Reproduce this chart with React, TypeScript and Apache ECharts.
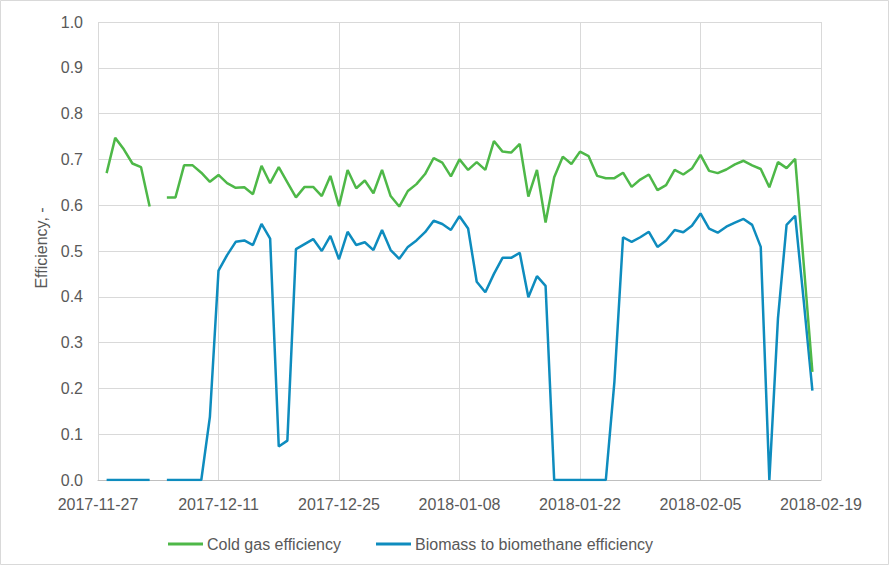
import React, { useEffect, useRef } from "react";
import * as echarts from "echarts";

// Daily categories from 2017-11-27 to 2018-02-19
const startDate = "2017-11-27";
const dayCount = 85;
const tickStep = 14;

// Values start at 2017-11-28 (index 1); index 0 (2017-11-27) has no value
const coldGas: (number | null)[] = [
  null,
  0.67, 0.747, 0.722, 0.691, 0.683, 0.597, null, 0.617, 0.617, 0.687,
  0.687, 0.671, 0.651, 0.666, 0.648, 0.638, 0.639, 0.624, 0.686, 0.648,
  0.683, 0.65, 0.617, 0.64, 0.64, 0.62, 0.664, 0.598, 0.677, 0.637,
  0.654, 0.626, 0.677, 0.62, 0.597, 0.631, 0.646, 0.668, 0.703, 0.693,
  0.663, 0.7, 0.677, 0.694, 0.677, 0.74, 0.717, 0.715, 0.734, 0.619,
  0.677, 0.562, 0.661, 0.706, 0.69, 0.717, 0.707, 0.664, 0.659, 0.659,
  0.671, 0.64, 0.656, 0.667, 0.633, 0.644, 0.677, 0.667, 0.68, 0.71,
  0.675, 0.67, 0.678, 0.689, 0.697, 0.687, 0.679, 0.639, 0.694, 0.681,
  0.701, 0.47, 0.236, null,
];

const biomass: (number | null)[] = [
  null,
  0, 0, 0, 0, 0, 0, null, 0, 0, 0,
  0, 0, 0.138, 0.457, 0.491, 0.52, 0.523, 0.513, 0.559, 0.527,
  0.073, 0.086, 0.504, 0.515, 0.526, 0.5, 0.533, 0.482, 0.542, 0.513,
  0.519, 0.502, 0.546, 0.502, 0.483, 0.509, 0.523, 0.541, 0.566, 0.559,
  0.546, 0.576, 0.549, 0.433, 0.41, 0.45, 0.485, 0.485, 0.496, 0.399,
  0.445, 0.424, 0, 0, 0, 0, 0, 0, 0, 0.215,
  0.53, 0.52, 0.53, 0.542, 0.509, 0.523, 0.546, 0.541, 0.555, 0.582,
  0.549, 0.54, 0.553, 0.562, 0.57, 0.557, 0.509, 0, 0.353, 0.557,
  0.577, 0.39, 0.195, null,
];

const seriesNames = ["Cold gas efficiency", "Biomass to biomethane efficiency"];
const yTitle = "Efficiency, -";

function buildDates(): string[] {
  const out: string[] = [];
  const base = new Date(startDate + "T00:00:00Z").getTime();
  for (let i = 0; i < dayCount; i++) {
    const d = new Date(base + i * 86400000);
    out.push(d.toISOString().slice(0, 10));
  }
  return out;
}

const GREEN = "#4EB848";
const BLUE = "#0E8CBE";
const FONT = "'Liberation Sans', Arial, sans-serif";
const TEXT = "#595959";

export default function App() {
  const ref = useRef<HTMLDivElement>(null);
  useEffect(() => {
    if (!ref.current) return;
    const chart = echarts.init(ref.current, undefined, { renderer: "svg" });
    const dates = buildDates();
    chart.setOption({
      animation: false,
      backgroundColor: "#ffffff",
      textStyle: { fontFamily: FONT },
      grid: { left: 98, right: 68, top: 22, bottom: 85, containLabel: false },
      graphic: [
        {
          type: "rect",
          shape: { x: 0.5, y: 0.5, width: 888, height: 564 },
          style: { fill: "none", stroke: "#d9d9d9", lineWidth: 1 },
          silent: true,
        },
        {
          type: "text",
          x: 41,
          y: 248,
          rotation: Math.PI / 2,
          style: {
            text: yTitle,
            fill: TEXT,
            font: `16px ${FONT}`,
            align: "center",
            verticalAlign: "middle",
          },
        },
      ],
      legend: {
        left: 163,
        top: 531,
        icon: "rect",
        itemWidth: 35,
        itemHeight: 3,
        itemGap: 35,
        textStyle: { color: TEXT, fontSize: 16, fontFamily: FONT, padding: [0, 0, 0, -1] },
        data: seriesNames,
      },
      xAxis: {
        type: "category",
        data: dates,
        boundaryGap: false,
        axisLine: { show: true, lineStyle: { color: "#bfbfbf", width: 1 } },
        axisTick: { show: false },
        axisLabel: {
          interval: tickStep - 1,
          color: TEXT,
          fontSize: 16,
          fontFamily: FONT,
          margin: 16,
        },
        splitLine: {
          show: true,
          interval: tickStep - 1,
          lineStyle: { color: "#d9d9d9", width: 1 },
        },
      },
      yAxis: {
        type: "value",
        min: 0,
        max: 1,
        interval: 0.1,
        axisLine: { show: false },
        axisTick: { show: false },
        axisLabel: {
          color: TEXT,
          fontSize: 16,
          fontFamily: FONT,
          margin: 15,
          formatter: (v: number) => v.toFixed(1),
        },
        splitLine: { show: true, lineStyle: { color: "#d9d9d9", width: 1 } },
      },
      series: [
        {
          name: seriesNames[0],
          type: "line",
          data: coldGas,
          symbol: "none",
          connectNulls: false,
          lineStyle: { color: GREEN, width: 2.5 },
          itemStyle: { color: GREEN },
          z: 3,
        },
        {
          name: seriesNames[1],
          type: "line",
          data: biomass,
          symbol: "none",
          connectNulls: false,
          lineStyle: { color: BLUE, width: 2.5 },
          itemStyle: { color: BLUE },
          z: 2,
        },
      ],
    });
    return () => chart.dispose();
  }, []);
  return (
    <div
      ref={ref}
      style={{ position: "fixed", left: 0, top: 0, width: 889, height: 565 }}
    />
  );
}
